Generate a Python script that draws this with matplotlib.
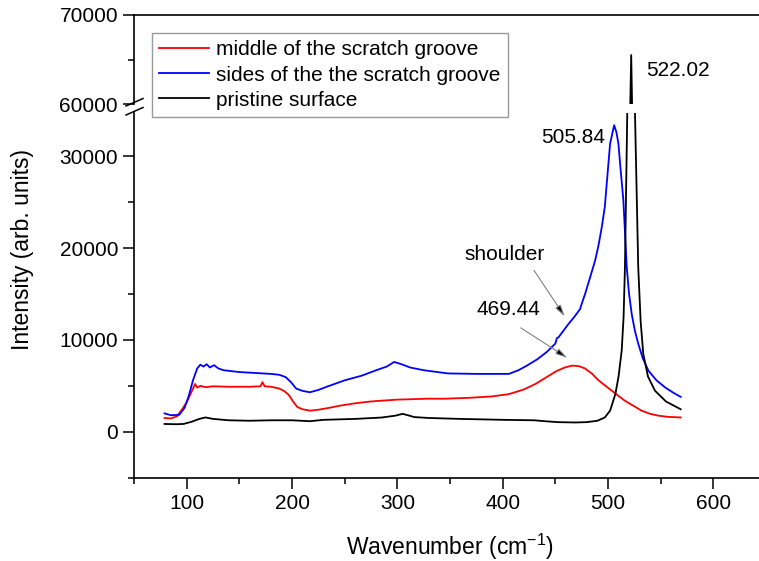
import matplotlib
matplotlib.use('Agg')
import matplotlib.pyplot as plt
from matplotlib.lines import Line2D
from matplotlib.ticker import MultipleLocator

plt.rcParams['font.family'] = ['Liberation Sans', 'DejaVu Sans']
plt.rcParams['mathtext.default'] = 'regular'

# spectra (wavenumber in cm-1, intensity in arb. units)
wn_blue = [79, 85, 93, 98, 102, 106, 110, 113, 116, 119, 122, 126, 130, 135, 150, 165,
           180, 188, 194, 199, 204, 210, 217, 225, 233, 250, 266, 280, 290, 297, 304,
           312, 325, 348, 375, 406, 415, 423, 433, 442, 450, 451.5, 453, 462.5, 468,
           473.6, 474.5, 478.3, 483, 487.8, 491, 494.1, 497, 498.8, 502, 505.84, 508,
           509.9, 512, 514.6, 517.8, 520, 522.5, 525.5, 528.8, 533, 538.4, 546, 554.2,
           562, 569]
I_blue = [2000, 1800, 1850, 2600, 3900, 5600, 6900, 7300, 7100, 7350, 7000, 7250, 6900,
          6700, 6500, 6400, 6300, 6200, 5950, 5400, 4700, 4450, 4300, 4550, 4900, 5600,
          6100, 6700, 7100, 7600, 7350, 7000, 6700, 6350, 6300, 6300, 6700, 7200, 7900,
          8700, 9600, 10200, 10280, 11740, 12500, 13380, 13750, 15020, 16800, 18650,
          20300, 22280, 24500, 27010, 31370, 33370, 32600, 31370, 28500, 25190, 17920,
          15000, 12830, 11000, 9560, 8000, 6650, 5600, 4830, 4250, 3800]

wn_red = [79, 85, 91, 96, 100, 104, 108, 110, 113, 118, 125, 140, 160, 170, 172, 174,
          180, 188, 193, 197, 201, 205, 210, 217, 225, 235, 246, 260, 275, 287, 300,
          315, 328, 345, 369, 390, 406, 420, 431, 441, 451, 459, 466, 472, 478, 485,
          491, 497, 503.6, 510, 516, 523, 532, 540, 548, 557, 569]
I_red = [1500, 1450, 1700, 2500, 3200, 4200, 5200, 4800, 5000, 4850, 4950, 4900, 4900,
         4950, 5400, 4950, 4900, 4700, 4400, 4000, 3300, 2700, 2450, 2300, 2400, 2600,
         2850, 3100, 3300, 3400, 3500, 3550, 3600, 3600, 3700, 3850, 4100, 4600, 5200,
         5900, 6600, 7000, 7200, 7150, 6900, 6300, 5600, 5050, 4470, 3900, 3380, 2900,
         2290, 1950, 1750, 1620, 1560]

wn_blk = [79, 90, 97, 105, 112, 118, 125, 140, 160, 180, 200, 217, 230, 260, 285, 298,
          305, 310, 316, 330, 360, 400, 430, 440, 452, 469, 480, 490, 497, 502, 507,
          510, 513, 514.8, 516.1, 518.3, 519.8, 521, 522.02, 523, 524.3, 525.6, 528.7,
          531, 533.5, 538, 544.6, 555, 569]
I_blk = [850, 820, 850, 1100, 1400, 1560, 1400, 1250, 1200, 1250, 1250, 1150, 1300,
         1400, 1550, 1750, 1950, 1800, 1600, 1500, 1400, 1300, 1250, 1150, 1050, 1010,
         1050, 1200, 1560, 2300, 4110, 6000, 8830, 12500, 17920, 34820, 47000, 59000,
         65500, 59000, 47000, 34820, 17920, 12000, 8470, 6000, 4470, 3300, 2450]

labels = ['middle of the scratch groove', 'sides of the the scratch groove', 'pristine surface']

fig = plt.figure(figsize=(7.59, 5.61), dpi=100)
W, H = 759.0, 561.0
left = 134 / W
width = (766 - 134) / W
ax_top = fig.add_axes([left, 1 - 104 / H, width, 89 / H])
ax = fig.add_axes([left, 1 - 477.7 / H, width, (477.7 - 113) / H])

for a in (ax, ax_top):
    a.plot(wn_red, I_red, color='red', lw=1.3)
    a.plot(wn_blue, I_blue, color='blue', lw=1.3)
    a.plot(wn_blk, I_blk, color='black', lw=1.3)
    a.set_xlim(50, 650)
    a.spines['right'].set_visible(False)
    for s in a.spines.values():
        s.set_linewidth(1.2)
    a.tick_params(which='both', direction='out', width=1.1, labelsize=15)
    a.tick_params(which='major', length=8)
    a.tick_params(which='minor', length=4.5)

ax.set_ylim(-5000, 34700)
ax.spines['top'].set_visible(False)
ax.xaxis.set_major_locator(MultipleLocator(100))
ax.xaxis.set_minor_locator(MultipleLocator(50))
ax.yaxis.set_major_locator(MultipleLocator(10000))
ax.yaxis.set_minor_locator(MultipleLocator(5000))

ax_top.set_ylim(60000, 70000)
ax_top.spines['bottom'].set_visible(False)
ax_top.set_xticks([])
ax_top.xaxis.set_minor_locator(plt.NullLocator())
ax_top.yaxis.set_major_locator(MultipleLocator(10000))
ax_top.yaxis.set_minor_locator(MultipleLocator(5000))

# break marks on the y axis
for y0 in (106, 115):
    fig.add_artist(Line2D([126 / W, 143 / W], [1 - y0 / H, 1 - (y0 - 7.5) / H],
                          color='black', lw=1.1, transform=fig.transFigure))

ax.set_xlabel('Wavenumber (cm$^{-1}$)', fontsize=16.5, labelpad=14)
fig.text(23 / W, 1 - 250 / H, 'Intensity (arb. units)', rotation=90, fontsize=16.5,
         ha='center', va='center')

ax_top.text(566, 63800, '522.02', fontsize=15, ha='center', va='center')
ax.text(467, 32000, '505.84', fontsize=15, ha='center', va='center')
ax.text(401.5, 19300, 'shoulder', fontsize=15, ha='center', va='center')
ax.text(405.8, 13300, '469.44', fontsize=15, ha='center', va='center')

arrow = dict(arrowstyle='-|>,head_length=0.7,head_width=0.18', fc='black', ec='gray', lw=0.8,
             shrinkA=0, shrinkB=0)
ax.annotate('', xy=(459, 12540), xytext=(429.8, 17560), arrowprops=arrow)
ax.annotate('', xy=(461.5, 8040), xytext=(417.2, 11310), arrowprops=arrow)

handles = [Line2D([], [], color=c, lw=1.3) for c in ('red', 'blue', 'black')]
leg = fig.legend(handles, labels, loc='upper left', bbox_to_anchor=(151.5 / W, 1 - 33 / H),
                 fontsize=15, frameon=True, fancybox=False, borderaxespad=0,
                 handlelength=2.4, handletextpad=0.35, labelspacing=0.3, borderpad=0.35)
leg.get_frame().set_edgecolor('gray')
leg.get_frame().set_linewidth(1.0)

fig.savefig('out.png', dpi=100)
